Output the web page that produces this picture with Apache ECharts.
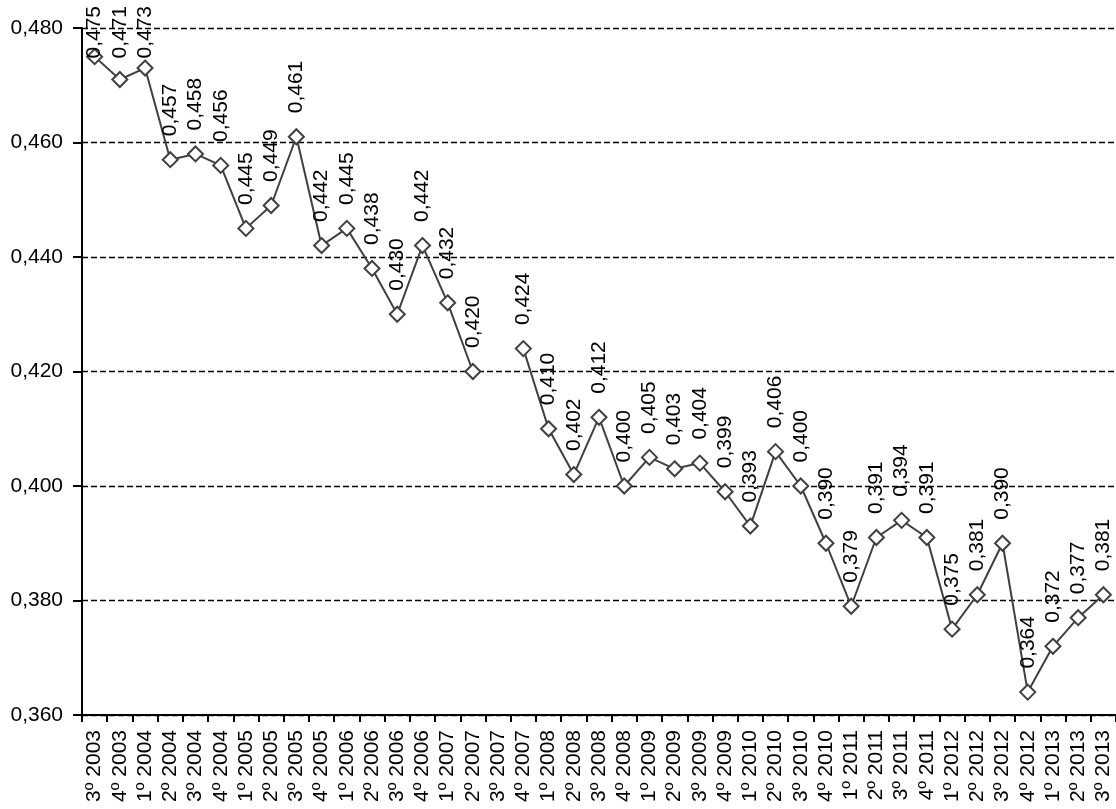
<!DOCTYPE html>
<html>
<head>
<meta charset="utf-8">
<script src="https://cdn.jsdelivr.net/npm/echarts@6/dist/echarts.min.js"></script>
<style>
html,body{margin:0;padding:0;background:#fff;}
#chart{width:1116px;height:809px;}
</style>
</head>
<body>
<div id="chart"></div>
<script>
var categories = ["3º 2003","4º 2003","1º 2004","2º 2004","3º 2004","4º 2004","1º 2005","2º 2005","3º 2005","4º 2005","1º 2006","2º 2006","3º 2006","4º 2006","1º 2007","2º 2007","3º 2007","4º 2007","1º 2008","2º 2008","3º 2008","4º 2008","1º 2009","2º 2009","3º 2009","4º 2009","1º 2010","2º 2010","3º 2010","4º 2010","1º 2011","2º 2011","3º 2011","4º 2011","1º 2012","2º 2012","3º 2012","4º 2012","1º 2013","2º 2013","3º 2013"];
var values = [0.475,0.471,0.473,0.457,0.458,0.456,0.445,0.449,0.461,0.442,0.445,0.438,0.430,0.442,0.432,0.420,null,0.424,0.410,0.402,0.412,0.400,0.405,0.403,0.404,0.399,0.393,0.406,0.400,0.390,0.379,0.391,0.394,0.391,0.375,0.381,0.390,0.364,0.372,0.377,0.381];
var yMin = 0.36, yMax = 0.48, yStep = 0.02;

function fmt(v){ return v.toFixed(3).replace('.', ','); }

var chart = echarts.init(document.getElementById('chart'));
var font = "'Liberation Sans', Arial, sans-serif";
chart.setOption({
  animation: false,
  backgroundColor: '#ffffff',
  textStyle: { fontFamily: font },
  grid: { left: 82, right: 0, top: 28, bottom: 94, containLabel: false },
  xAxis: {
    type: 'category',
    data: categories,
    boundaryGap: true,
    axisLine: { lineStyle: { color: '#000', width: 2 } },
    axisTick: { show: true, length: 7, lineStyle: { color: '#000', width: 2 }, alignWithLabel: false },
    axisLabel: { rotate: 90, interval: 0, color: '#000', fontSize: 21, fontFamily: font, margin: 15 },
    splitLine: { show: false }
  },
  yAxis: {
    type: 'value',
    min: yMin, max: yMax, interval: yStep,
    axisLine: { show: true, lineStyle: { color: '#000', width: 2 } },
    axisTick: { show: true, length: 9, lineStyle: { color: '#000', width: 2 } },
    axisLabel: { color: '#000', fontSize: 21, fontFamily: font, margin: 19, formatter: fmt },
    splitLine: { show: true, lineStyle: { color: '#000', width: 1.4, type: [6, 3] } }
  },
  series: [{
    type: 'line',
    data: values,
    connectNulls: false,
    symbol: 'diamond',
    symbolSize: 15,
    showAllSymbol: true,
    lineStyle: { color: '#404040', width: 2 },
    itemStyle: { color: '#ffffff', borderColor: '#404040', borderWidth: 2 },
    label: {
      show: true,
      position: 'top',
      distance: 15,
      rotate: 90,
      align: 'left',
      verticalAlign: 'middle',
      color: '#000',
      fontSize: 21,
      fontFamily: font,
      formatter: function(p){ return fmt(p.value); }
    },
    labelLayout: function(params){
      var r = params.labelRect;
      if (r.y < 6) { return { y: 6 + r.height }; }
      return {};
    }
  }]
});
</script>
</body>
</html>
